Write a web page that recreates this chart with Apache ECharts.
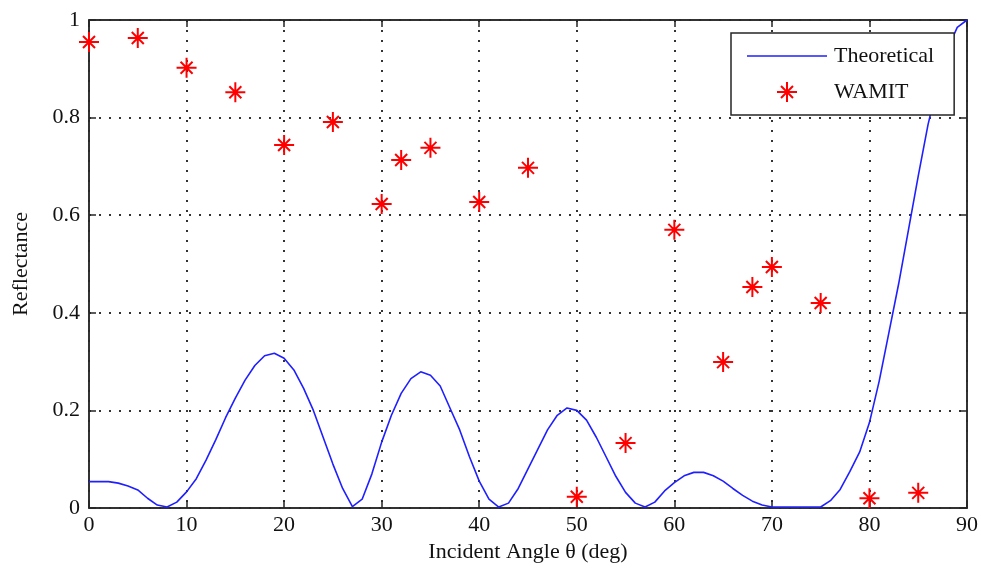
<!DOCTYPE html>
<html>
<head>
<meta charset="utf-8">
<script src="https://cdn.jsdelivr.net/npm/echarts@6/dist/echarts.min.js"></script>
<style>html,body{margin:0;padding:0;background:#fff}#c{width:981px;height:578px}</style>
</head>
<body>
<div id="c"></div>
<script>
const theoryAngles = [0,1,2,3,4,5,6,7,8,9,10,11,12,13,14,15,16,17,18,19,20,21,22,23,24,25,26,27,28,29,30,31,32,33,34,35,36,37,38,39,40,41,42,43,44,45,46,47,48,49,50,51,52,53,54,55,56,57,58,59,60,61,62,63,64,65,66,67,68,69,70,71,72,73,74,75,76,77,78,79,80,81,82,83,84,85,86,87,88,89,90];
const theoryValues = [0.054,0.054,0.054,0.051,0.045,0.037,0.02,0.006,0.002,0.012,0.033,0.06,0.098,0.14,0.185,0.225,0.262,0.292,0.312,0.317,0.307,0.283,0.245,0.2,0.145,0.09,0.04,0.003,0.018,0.07,0.135,0.19,0.235,0.265,0.279,0.272,0.25,0.205,0.16,0.105,0.055,0.018,0.002,0.01,0.04,0.08,0.12,0.16,0.19,0.205,0.2,0.18,0.145,0.105,0.065,0.032,0.01,0.002,0.012,0.035,0.052,0.066,0.073,0.073,0.066,0.055,0.04,0.026,0.014,0.006,0.002,0.002,0.002,0.002,0.002,0.002,0.015,0.038,0.075,0.115,0.175,0.26,0.36,0.46,0.57,0.68,0.785,0.87,0.94,0.985,1.0];
const wamitAngles = [0,5,10,15,20,25,30,32,35,40,45,50,55,60,65,68,70,75,80,85];
const wamitValues = [0.955,0.963,0.902,0.852,0.744,0.791,0.623,0.713,0.738,0.627,0.697,0.023,0.133,0.570,0.299,0.453,0.494,0.420,0.020,0.031];
const xTicks = [0,10,20,30,40,50,60,70,80,90];
const yTicks = [0,0.2,0.4,0.6,0.8,1];

const star = 'path://M10 0 L10 20 M0 10 L20 10 M4 4 L16 16 M16 4 L4 16 M8.5 8.5 L11.5 8.5 L11.5 11.5 L8.5 11.5 Z';
const lineIcon = 'path://M0 9.2 L80 9.2 L80 10.8 L0 10.8 Z';
const font = '"Liberation Serif", "Times New Roman", serif';
const axisColor = '#262626';

const chart = echarts.init(document.getElementById('c'), null, {renderer: 'canvas'});
const tickStyle = {show: true, inside: true, length: 7, lineStyle: {color: axisColor, width: 1.5}};
chart.setOption({
  backgroundColor: '#fff',
  animation: false,
  textStyle: {fontFamily: font},
  grid: {left: 89, top: 20, width: 878, height: 488, show: true, borderColor: axisColor, borderWidth: 1.5, backgroundColor: 'transparent'},
  legend: {
    left: 731, top: 33, orient: 'vertical',
    itemWidth: 80, itemHeight: 20, itemGap: 14,
    padding: [12, 20, 12, 16],
    borderColor: axisColor, borderWidth: 1.5, backgroundColor: '#fff',
    textStyle: {fontFamily: font, fontSize: 22, color: '#111', padding: [0, 0, 0, 2]},
    data: [{name: 'Theoretical', icon: lineIcon, itemStyle: {color: '#1f1fff', borderWidth: 0}},
           {name: 'WAMIT', icon: star}]
  },
  xAxis: [{
    type: 'value', min: xTicks[0], max: xTicks[xTicks.length-1], interval: xTicks[1]-xTicks[0],
    position: 'bottom',
    name: 'Incident Angle θ (deg)', nameLocation: 'middle', nameGap: 31,
    nameTextStyle: {fontFamily: font, fontSize: 22, color: '#111'},
    axisLine: {show: true, onZero: false, lineStyle: {color: axisColor, width: 1.5}},
    axisTick: tickStyle,
    axisLabel: {fontFamily: font, fontSize: 22, color: '#111', margin: 6},
    splitLine: {show: true, lineStyle: {color: '#333', width: 2, type: [2, 8]}}
  }, {
    type: 'value', min: xTicks[0], max: xTicks[xTicks.length-1], interval: xTicks[1]-xTicks[0],
    position: 'top',
    axisLine: {show: true, onZero: false, lineStyle: {color: axisColor, width: 1.5}},
    axisTick: tickStyle, axisLabel: {show: false}, splitLine: {show: false}
  }],
  yAxis: [{
    type: 'value', min: yTicks[0], max: yTicks[yTicks.length-1], interval: yTicks[1]-yTicks[0],
    position: 'left',
    name: 'Reflectance', nameLocation: 'middle', nameGap: 57,
    nameTextStyle: {fontFamily: font, fontSize: 22, color: '#111'},
    axisLine: {show: true, onZero: false, lineStyle: {color: axisColor, width: 1.5}},
    axisTick: tickStyle,
    axisLabel: {fontFamily: font, fontSize: 22, color: '#111', margin: 9},
    splitLine: {show: true, lineStyle: {color: '#333', width: 2, type: [2, 8]}}
  }, {
    type: 'value', min: yTicks[0], max: yTicks[yTicks.length-1], interval: yTicks[1]-yTicks[0],
    position: 'right',
    axisLine: {show: true, onZero: false, lineStyle: {color: axisColor, width: 1.5}},
    axisTick: tickStyle, axisLabel: {show: false}, splitLine: {show: false}
  }],
  series: [{
    name: 'Theoretical', type: 'line', symbol: 'none', showSymbol: false,
    data: theoryAngles.map((a, i) => [a, theoryValues[i]]),
    lineStyle: {color: '#1f1fff', width: 1.6}, itemStyle: {color: '#1f1fff'},
    z: 3
  }, {
    name: 'WAMIT', type: 'scatter', symbol: star, symbolSize: 20, symbolKeepAspect: true,
    data: wamitAngles.map((a, i) => [a, wamitValues[i]]),
    itemStyle: {color: '#ff0000', borderColor: '#ff0000', borderWidth: 2, opacity: 1},
    z: 4
  }]
});
</script>
</body>
</html>
